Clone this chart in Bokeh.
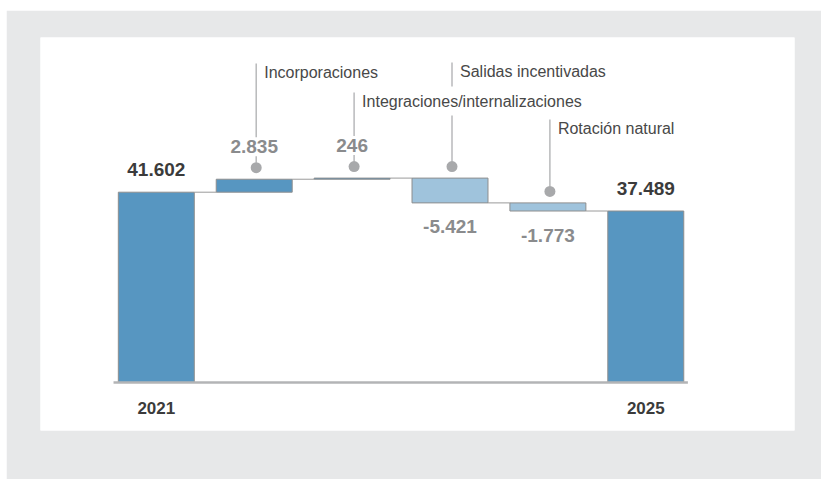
from bokeh.plotting import figure
from bokeh.models import Range1d, ColumnDataSource
from bokeh.core.properties import value
from bokeh.embed import file_html
from bokeh.resources import INLINE

# ---------------- data ----------------
categories = ["2021", "Incorporaciones", "Integraciones/internalizaciones",
              "Salidas incentivadas", "Rotación natural", "2025"]
values = [41602, 2835, 246, -5421, -1773, 37489]
is_total = [True, False, False, False, False, True]
value_labels = ["41.602", "2.835", "246", "-5.421", "-1.773", "37.489"]
tick_labels = ["2021", "", "", "", "", "2025"]

# ---------------- style ----------------
FONT = "Liberation Sans"
PAGE_BG = "#e7e8e9"
DARK_BLUE = "#5796c1"
LIGHT_BLUE = "#9fc3dc"
BAR_LINE = "#8e8e8e"
DARK_TXT = "#3b3b3b"
GRAY_TXT = "#8a8b8d"
NOTE_TXT = "#484848"
LEADER = "#b8b9bb"
DOT = "#a8a9ab"

# frame geometry (px) and ranges
FRAME_W, FRAME_H = 754, 393
X_START, X_END = -1.183, 6.519
Y_START, Y_END = -10493, 75421
PX_X = (X_END - X_START) / FRAME_W
PX_Y = (Y_END - Y_START) / FRAME_H
BAR_W = 0.776

# note label heights (px above the zero line) for the delta bars
note_rise_px = {1: 305, 2: 276, 3: 306, 4: 249}
NOTE_SIZE = 16
BIG = "19px"
# renderer baseline corrections (px)
BIG_SHIFT = -8
NOTE_SHIFT = -5
YEAR_SHIFT = -6

# ---------------- waterfall geometry ----------------
bottoms, tops, ends = [], [], []
running = 0
for v, t in zip(values, is_total):
    b, e = (0, v) if t else (running, running + v)
    running = e
    bottoms.append(min(b, e))
    tops.append(max(b, e))
    ends.append(e)

xs = list(range(len(categories)))
colors = []
for i, (v, t) in enumerate(zip(values, is_total)):
    colors.append(DARK_BLUE if (t or v > 0) else LIGHT_BLUE)

p = figure(width=815, height=469, output_backend="svg", toolbar_location=None,
           x_range=Range1d(X_START, X_END), y_range=Range1d(Y_START, Y_END),
           x_axis_type=None, y_axis_type=None, title=None,
           min_border_left=34, min_border_right=27, min_border_top=27,
           min_border_bottom=49, border_fill_color=PAGE_BG,
           background_fill_color="white", outline_line_color=None)
p.margin = (10, 0, 0, 6)
p.xgrid.visible = False
p.ygrid.visible = False

# bars
bars = ColumnDataSource(dict(x=xs, bottom=bottoms, top=tops, color=colors))
p.vbar(x="x", width=BAR_W, bottom="bottom", top="top", source=bars,
       fill_color="color", line_color=BAR_LINE, line_width=1)

# connectors
cx0 = [i + BAR_W / 2 for i in xs[:-1]]
cx1 = [i + 1 - BAR_W / 2 for i in xs[:-1]]
cy = ends[:-1]
p.segment(x0=cx0, y0=cy, x1=cx1, y1=cy, line_color="#9a9a9a", line_width=1)

# base line
p.segment(x0=[xs[0] - 0.437], y0=[0], x1=[xs[-1] + 0.43], y1=[0],
          line_color="#b3b4b6", line_width=2.5)

# year labels
yl = ColumnDataSource(dict(x=[x for x, t in zip(xs, tick_labels) if t],
                           y=[0 for t in tick_labels if t],
                           t=[t for t in tick_labels if t]))
p.text(x="x", y="y", text="t", source=yl, text_align="center",
       text_baseline="alphabetic", y_offset=31 + YEAR_SHIFT, text_font=value(FONT),
       text_font_style="bold", text_font_size="17px", text_color=DARK_TXT)

# total value labels
tl = ColumnDataSource(dict(x=[x for x, t in zip(xs, is_total) if t],
                           y=[tp for tp, t in zip(tops, is_total) if t],
                           t=[l for l, t in zip(value_labels, is_total) if t]))
p.text(x="x", y="y", text="t", source=tl, text_align="center",
       text_baseline="alphabetic", y_offset=-14.7 + BIG_SHIFT, text_font=value(FONT),
       text_font_style="bold", text_font_size=BIG, text_color=DARK_TXT)

# delta annotations
deltas = [i for i, t in enumerate(is_total) if not t]
dot_x, dot_y = [], []
pos_x, pos_y, pos_t = [], [], []
neg_x, neg_y, neg_t = [], [], []
note_x, note_y, note_t = [], [], []
seg_x, seg_y0, seg_y1 = [], [], []

line_x = {i: i + 2 * PX_X for i in deltas}
note_start_px = {i: (line_x[i] - X_START) / PX_X + 8 for i in deltas}
note_w_px = {i: len(categories[i]) * NOTE_SIZE * 0.46 for i in deltas}

for i in deltas:
    d_r = tops[i] / PX_Y + 11.5          # dot centre, px above zero
    dot_x.append(line_x[i]); dot_y.append(d_r * PX_Y)
    gaps = []
    if values[i] > 0:
        vb = d_r + 13
        pos_x.append(i); pos_y.append(vb * PX_Y); pos_t.append(value_labels[i])
        gaps.append((vb - 1.5, vb + 17.5))
    else:
        neg_x.append(i); neg_y.append(bottoms[i]); neg_t.append(value_labels[i])
    nr = note_rise_px[i]
    note_x.append(line_x[i]); note_y.append(nr * PX_Y); note_t.append(categories[i])
    lx_px = (line_x[i] - X_START) / PX_X
    for j in deltas:
        if j != i and note_start_px[j] - 4 < lx_px < note_start_px[j] + note_w_px[j]:
            gaps.append((note_rise_px[j] - 9, note_rise_px[j] + 20))
    lo, hi = d_r + 5, nr + 14
    pieces = [(lo, hi)]
    for g0, g1 in gaps:
        new = []
        for a, b in pieces:
            if g1 <= a or g0 >= b:
                new.append((a, b))
            else:
                if g0 > a:
                    new.append((a, g0))
                if g1 < b:
                    new.append((g1, b))
        pieces = new
    for a, b in pieces:
        seg_x.append(line_x[i]); seg_y0.append(a * PX_Y); seg_y1.append(b * PX_Y)

p.segment(x0=seg_x, y0=seg_y0, x1=seg_x, y1=seg_y1, line_color=LEADER, line_width=1.5)
p.scatter(x=dot_x, y=dot_y, size=11, fill_color=DOT, line_color=None)

p.text(x=pos_x, y=pos_y, text=pos_t, text_align="center", text_baseline="alphabetic",
       y_offset=BIG_SHIFT, text_font=value(FONT), text_font_style="bold",
       text_font_size=BIG, text_color=GRAY_TXT)
p.text(x=neg_x, y=neg_y, text=neg_t, text_align="center", text_baseline="alphabetic",
       y_offset=32 + BIG_SHIFT, text_font=value(FONT), text_font_style="bold",
       text_font_size=BIG, text_color=GRAY_TXT)
p.text(x=note_x, y=note_y, text=note_t, text_align="left", text_baseline="alphabetic",
       x_offset=8, y_offset=NOTE_SHIFT, text_font=value(FONT),
       text_font_size=f"{NOTE_SIZE}px", text_color=NOTE_TXT)

open("out.html", "w").write(file_html(p, INLINE))
